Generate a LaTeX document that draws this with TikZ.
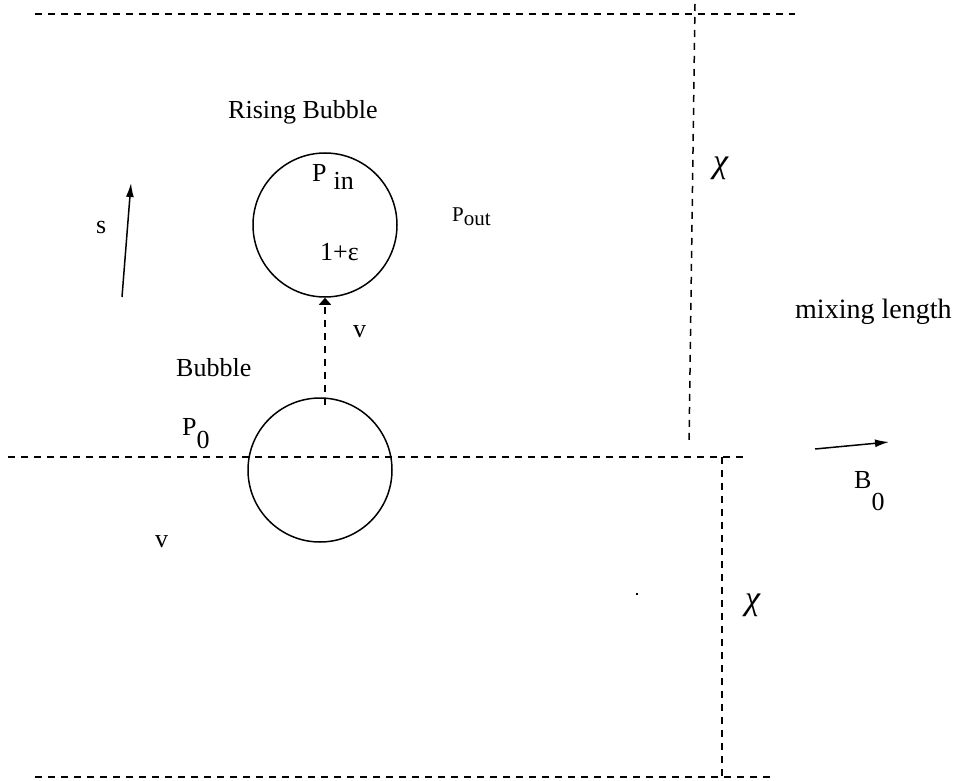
\documentclass[tikz,border=0pt]{standalone}
\usepackage{fontspec}
\setmainfont{Liberation Serif}
\usetikzlibrary{arrows.meta,positioning}

\begin{document}
\begin{tikzpicture}[x=1pt,y=-1pt, every node/.style={font=\fontsize{26}{30}\selectfont,inner sep=0pt,anchor=base west}, dline/.style={dash pattern=on 7pt off 6pt,line width=1.5pt}, bub/.style={circle,draw,line width=1.5pt,minimum size=144pt,anchor=center}, a/.style={-{Latex[length=14pt,width=8pt]},line width=1.5pt}, tip/.style={-{Triangle[length=7pt,width=12pt]}}, chilbl/.style={font=\fontsize{34}{36}\selectfont\itshape}]
\useasboundingbox (0,0) rectangle (964,781);
% layers and mixing length
\draw[dline] (35,14)--(795,14);\draw[dline] (8,457)--(748,457);\draw[dline] (35,777)--(775,777);
\draw[dline] (695,4)--(689,445);\draw[dline] (722,457)--(722,781);
% bubbles
\node[bub] (rising) at (325,225) {};
\node[bub] (bubble) at (320,470) {};
\coordinate (vstart) at (325,405);
\draw[dline,tip] (vstart)--(rising.south);
\node (risinglbl) at (228,119) {Rising Bubble};
\node (pin) at (312,182) {P\hspace{7pt}\raisebox{-8pt}{in}};
\node (eps) at (320,260) {1+ε};
\node[font=\fontsize{21}{24}\selectfont] (pout) at (452,221) {P\raisebox{-4pt}{out}};
\node (vup) at (353,337) {v};
\node (bubblelbl) at (176,376) {Bubble};
\node (p0) at (182,435) {P\raisebox{-13pt}{0}};
\node (vlow) at (155,547) {v};
% direction arrows
\coordinate (sfrom) at (122,297);\coordinate (sto) at (131,183);
\draw[a] (sfrom)--(sto);
\node (slbl) at (96,233) {s};
\coordinate (bfrom) at (815,449);\coordinate (bto) at (889,442);
\draw[a] (bfrom)--(bto);
\node (b0) at (854,488) {B\raisebox{-22pt}{0}};
\node[chilbl] (chiup) at (713,172) {χ};
\node[chilbl] (chilow) at (745,609) {χ};
\node[font=\fontsize{28}{32}\selectfont] (mixing) at (795,318) {mixing length};
\fill (636,593) rectangle (638,595);
\end{tikzpicture}
\end{document}
